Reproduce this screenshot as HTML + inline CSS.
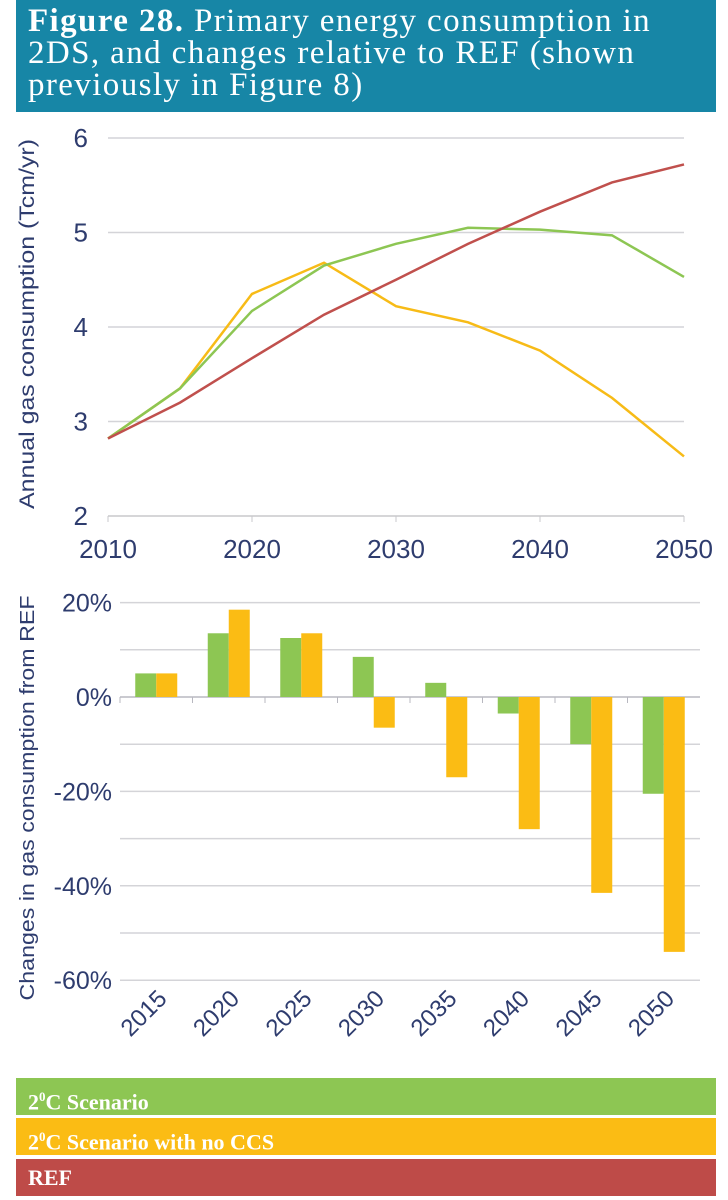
<!DOCTYPE html>
<html><head><meta charset="utf-8"><style>
body{margin:0;width:728px;height:1200px;background:#fff;overflow:hidden;font-family:"Liberation Serif",serif;}
#hdr{position:absolute;left:16px;top:0;width:700px;height:112px;background:#1786a6;color:#fff;font-size:33px;line-height:32px;padding:5px 0 0 12px;box-sizing:border-box;letter-spacing:1.4px;white-space:nowrap;}
.lg{position:absolute;left:16px;width:700px;height:37px;color:#fff;font-weight:bold;font-size:22px;line-height:37px;padding-left:12px;box-sizing:border-box;}
svg text{font-family:"Liberation Sans",sans-serif;fill:#2e3c6e;}
</style></head><body>
<div id="hdr"><b>Figure 28.</b> Primary energy consumption in<br>2DS, and changes relative to REF (shown<br>previously in Figure 8)</div>
<svg id="top" width="728" height="1200" style="position:absolute;left:0;top:0"></svg>
<div class="lg" style="top:1078px;background:#8dc653">2<sup style="font-size:13px">0</sup>C Scenario</div>
<div class="lg" style="top:1118px;background:#fbbc14">2<sup style="font-size:13px">0</sup>C Scenario with no CCS</div>
<div class="lg" style="top:1159px;background:#be4b48">REF</div>
<script>
const years=[2010,2015,2020,2025,2030,2035,2040,2045,2050];
const refVals=[2.82,3.2,3.67,4.13,4.5,4.88,5.22,5.53,5.72];
const greenVals=[2.82,3.35,4.17,4.65,4.88,5.05,5.03,4.97,4.53];
const yellowVals=[2.82,3.35,4.35,4.68,4.22,4.05,3.75,3.25,2.63];
const yTicksTop=[2,3,4,5,6];
const xTicksTop=[2010,2020,2030,2040,2050];
const barCats=["2015","2020","2025","2030","2035","2040","2045","2050"];
const barGreen=[5,13.5,12.5,8.5,3,-3.5,-10,-20.5];
const barYellow=[5,18.5,13.5,-6.5,-17,-28,-41.5,-54];
const yTicksBot=[20,0,-20,-40,-60];
const gridBot=[20,10,0,-10,-20,-30,-40,-50,-60];
const NS="http://www.w3.org/2000/svg";
const svg=document.getElementById('top');
function mk(t,a,p){const e=document.createElementNS(NS,t);for(const k in a)e.setAttribute(k,a[k]);(p||svg).appendChild(e);return e;}
const xT=y=>108+(y-2010)/40*576;
const yT=v=>516-(v-2)/4*378;
yTicksTop.forEach(v=>{
 const l=mk('line',{x1:108,x2:684,y1:yT(v),y2:yT(v),stroke:v===2?'#c8c8cc':'#d4d4d8','stroke-width':1.5});
 
 
 const t=mk('text',{x:88,y:yT(v)+9,'text-anchor':'end','font-size':26});t.textContent=v;
 
 
});
xTicksTop.forEach(y=>{
 const t=mk('text',{x:xT(y),y:558,'text-anchor':'middle','font-size':26});t.textContent=y;
 
 
 mk('line',{x1:xT(y),x2:xT(y),y1:516,y2:522,stroke:'#c8c8cc'});
});
const yt=mk('text',{transform:'translate(34,324) rotate(-90)','text-anchor':'middle','font-size':21,textLength:370,lengthAdjust:'spacingAndGlyphs'});
yt.textContent='Annual gas consumption (Tcm/yr)';


[[yellowVals,'#f7bb17','line-2c-no-ccs'],[greenVals,'#8dc653','line-2c-scenario'],[refVals,'#c0504d','line-ref']].forEach(([arr,c,n])=>{
 const p=mk('polyline',{points:arr.map((v,i)=>xT(years[i])+','+yT(v)).join(' '),fill:'none',stroke:c,'stroke-width':2.5});
 
 
});
const yB=v=>697-v*4.72;
const x0=120,cw=72.5;
gridBot.forEach(v=>{
 const l=mk('line',{x1:x0,x2:700,y1:yB(v),y2:yB(v),stroke:v===0?'#b8b8c0':'#d4d4d8','stroke-width':1.5});
 
 
});
yTicksBot.forEach(v=>{
 const t=mk('text',{x:112,y:yB(v)+9,'text-anchor':'end','font-size':25});t.textContent=v+'%';
 
 
});
barCats.forEach((c,i)=>{
 const cx=x0+cw*(i+0.5);
 [[barGreen[i],cx-21,'#8dc653','bar-green-'+c],[barYellow[i],cx,'#fbbc14','bar-yellow-'+c]].forEach(([v,x,col,n])=>{
  const r=mk('rect',{x:x,y:Math.min(yB(v),yB(0)),width:21,height:Math.abs(yB(v)-yB(0)),fill:col});
  
  
 });
 mk('line',{x1:x0+cw*i,x2:x0+cw*i,y1:697,y2:703,stroke:'#b8b8c0'});
 const t=mk('text',{transform:`translate(${cx+12},1000) rotate(-45)`,'text-anchor':'end','font-size':24});t.textContent=c;
 
 
});
const yb=mk('text',{transform:'translate(34,798) rotate(-90)','text-anchor':'middle','font-size':20,textLength:405,lengthAdjust:'spacingAndGlyphs'});
yb.textContent='Changes in gas consumption from REF';


</script>
</body></html>
